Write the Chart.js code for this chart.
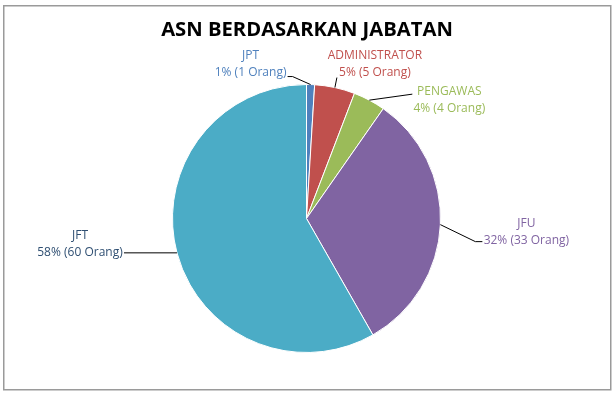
<!DOCTYPE html>
<html>
<head>
<meta charset="utf-8">
<script src="https://cdn.jsdelivr.net/npm/chart.js@4/dist/chart.umd.min.js"></script>
<style>
    body { margin: 0; background: #fff; }
    canvas { display: block; }
</style>
</head>
<body>
<canvas id="jabatanChart" width="614" height="393"></canvas>
<script>
const chartTitle = 'ASN BERDASARKAN JABATAN';
const categories = ['JPT', 'ADMINISTRATOR', 'PENGAWAS', 'JFU', 'JFT'];
const jumlahOrang = [1, 5, 4, 33, 60];
const sliceColors = ['#4F81BD', '#C0504D', '#9BBB59', '#8064A2', '#4BACC6'];
const labelColors = ['#4F81BD', '#C0504D', '#9BBB59', '#8064A2', '#2F4F72'];

// label centre + leader line end, relative to the slice's outer edge point
const labelOffsets = [
    { dx: -60, dy: -20, line: [[-18, -8], [-23, -8]] },
    { dx: 40, dy: -23, line: [[2, -10]] },
    { dx: 80, dy: 0, line: [[43, -6]] },
    { dx: 86, dy: 7, line: [[35, 17], [42, 17]] },
    { dx: -97, dy: -9, line: [[-53, 0]] }
];

const total = jumlahOrang.reduce((a, b) => a + b, 0);

const outsideLabels = {
    id: 'outsideLabels',
    beforeDraw(chart) {
        const ctx = chart.ctx;
        ctx.save();
        ctx.strokeStyle = '#9a9a9a';
        ctx.lineWidth = 1.5;
        ctx.strokeRect(3.75, 5.75, 607, 384);
        ctx.restore();
    },
    afterDraw(chart) {
        const ctx = chart.ctx;
        const arcs = chart.getDatasetMeta(0).data;
        ctx.save();

        // title, sized to the reference's width (~292px)
        let size = 24;
        ctx.font = `bold ${size}px "Open Sans"`;
        size = size * 292 / ctx.measureText(chartTitle).width;
        ctx.font = `bold ${size}px "Open Sans"`;
        ctx.fillStyle = '#000';
        ctx.textAlign = 'center';
        ctx.textBaseline = 'middle';
        ctx.fillText(chartTitle, chart.width / 2, 30);

        arcs.forEach((arc, i) => {
            const { x, y, startAngle, endAngle, outerRadius } = arc.getProps(['x', 'y', 'startAngle', 'endAngle', 'outerRadius'], true);
            const mid = (startAngle + endAngle) / 2;
            const ex = x + Math.cos(mid) * outerRadius;
            const ey = y + Math.sin(mid) * outerRadius;
            const off = labelOffsets[i];

            ctx.strokeStyle = '#000';
            ctx.lineWidth = 1;
            ctx.beginPath();
            ctx.moveTo(ex, ey);
            off.line.forEach(p => ctx.lineTo(ex + p[0], ey + p[1]));
            ctx.stroke();

            const pct = Math.round(jumlahOrang[i] / total * 100);
            ctx.fillStyle = labelColors[i];
            ctx.font = '12px "Open Sans"';
            ctx.fillText(categories[i], ex + off.dx, ey + off.dy - 8.5);
            ctx.fillText(`${pct}% (${jumlahOrang[i]} Orang)`, ex + off.dx, ey + off.dy + 8.5);
        });
        ctx.restore();
    }
};

new Chart(document.getElementById('jabatanChart'), {
    type: 'pie',
    data: {
        labels: categories,
        datasets: [{
            data: jumlahOrang,
            backgroundColor: sliceColors,
            borderColor: '#ffffff',
            borderWidth: 1
        }]
    },
    options: {
        responsive: false,
        animation: false,
        layout: { padding: { left: 172, right: 173, top: 84, bottom: 40 } },
        plugins: {
            legend: { display: false },
            tooltip: { enabled: false },
            title: { display: false }
        }
    },
    plugins: [outsideLabels]
});
</script>
</body>
</html>
